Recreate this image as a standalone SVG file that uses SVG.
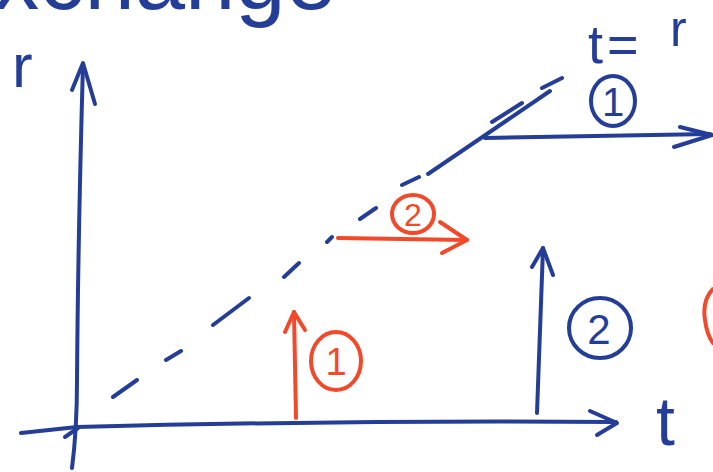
<svg xmlns="http://www.w3.org/2000/svg" width="713" height="472" viewBox="0 0 713 472">
<style>
.b{fill:none;stroke:#243d97;stroke-width:4;stroke-linecap:round;stroke-linejoin:round}
.o{fill:none;stroke:#f2492b;stroke-width:4;stroke-linecap:round;stroke-linejoin:round}
.tb{fill:#243d97;font-family:"Liberation Sans",Arial,sans-serif}
.to{fill:#f2492b;font-family:"Liberation Sans",Arial,sans-serif}
</style>
<rect width="713" height="472" fill="#ffffff"/>
<text class="tb" x="-6" y="9" font-size="90" textLength="342" lengthAdjust="spacingAndGlyphs">xchange</text>
<g id="axes">
<path class="b" d="M72,468 Q77,430 77,380 Q78,240 83,64"/>
<path class="b" d="M72,90 L83,63 L95,104"/>
<path class="b" d="M21,433 L77,427 Q350,420 616,422"/>
<path class="b" d="M590,411 L617,423 L597,435"/>
<path class="b" d="M65,437 L78,428"/>
<text class="tb" x="12" y="87" font-size="62">r</text>
<text class="tb" x="656" y="445" font-size="68">t</text>
</g>
<g id="diagonal">
<path class="b" d="M113,397 L137,380 M166,360 L181,351 M213,325 L249,298 M284,277 L299,263 M327,242 L332,237 M360,219 L376,208 M402,185 L419,177 M428,174 L550,91 M492,122 L522,103 M542,88 L562,78"/>
<text class="tb" x="588" y="63" font-size="54"><tspan>t</tspan><tspan dx="4">=</tspan><tspan x="670" y="46" font-size="50">r</tspan></text>
</g>
<g id="blue-horizontal">
<path class="b" d="M485,138 L710,134"/>
<path class="b" d="M680,127 L712,135 L674,147"/>
<ellipse class="b" cx="613" cy="101" rx="22" ry="25"/>
<text class="tb" x="613" y="116" font-size="40" text-anchor="middle">1</text>
</g>
<g id="orange-horizontal">
<path class="o" d="M338,238 L467,240"/>
<path class="o" d="M440,222 L467,240 L442,253"/>
<ellipse class="o" cx="413" cy="214" rx="21" ry="19"/>
<text class="to" x="413" y="226" font-size="32" text-anchor="middle">2</text>
</g>
<g id="orange-vertical">
<path class="o" d="M296,418 L294,312"/>
<path class="o" d="M285,332 L294,312 L305,330"/>
<ellipse class="o" cx="336" cy="361" rx="25" ry="29"/>
<text class="to" x="336" y="375" font-size="38" text-anchor="middle">1</text>
</g>
<g id="blue-vertical">
<path class="b" d="M537,413 Q540,330 543,248"/>
<path class="b" d="M532,267 L543,248 L553,275"/>
<ellipse class="b" cx="600" cy="328" rx="31" ry="30"/>
<text class="tb" x="599" y="344" font-size="42" text-anchor="middle">2</text>
</g>
<g id="orange-partial">
<path class="o" d="M713,289 Q702,300 705,320 Q707,335 713,343"/>
</g>
</svg>
